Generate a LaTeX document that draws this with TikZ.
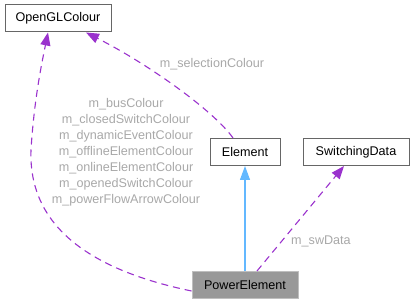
\documentclass[tikz,border=0pt]{standalone}
\usepackage{fontspec}
\setmainfont{Liberation Sans}
\usetikzlibrary{arrows.meta}
\definecolor{edgepurple}{HTML}{9A32CD}
\definecolor{edgeblue}{HTML}{63B8FF}
\definecolor{labelgray}{HTML}{A8A8A8}
\definecolor{boxborder}{HTML}{666666}
\definecolor{focusfill}{HTML}{999999}
\definecolor{focusborder}{HTML}{BFBFBF}
\tikzset{
  classbox/.style={draw=boxborder, fill=white, line width=1pt, minimum height=27pt,
    inner sep=0pt, font=\fontsize{12.6}{15}\selectfont},
  focusbox/.style={classbox, fill=focusfill, draw=focusborder},
  usage/.style={edgepurple, line width=1.1pt, dash pattern=on 7pt off 5pt,
    -{Triangle[length=13pt,width=10pt,fill=edgepurple]}},
  inherit/.style={edgeblue, line width=1.1pt,
    -{Triangle[length=14pt,width=10pt,fill=edgeblue]}},
  edgelabel/.style={text=labelgray, font=\fontsize{12.6}{16}\selectfont, align=center, inner sep=0pt}
}
\begin{document}
\begin{tikzpicture}[x=1pt,y=-1pt]
  \useasboundingbox (0,0) rectangle (413,304);

  % classes
  \node[classbox, minimum width=106pt] (ogl) at (58,18.5) {OpenGLColour};
  \node[classbox, minimum width=70pt] (elem) at (245,152) {Element};
  \node[classbox, minimum width=106pt] (swd) at (356,152) {SwitchingData};
  \node[focusbox, minimum width=106pt] (pe) at (245,285) {PowerElement};

  % inheritance
  \draw[inherit] (pe.north) -- (elem.south);

  % member usage
  \draw[usage] ([xshift=-12pt]elem.north) .. controls (215,112) and (150,65) .. ([xshift=28pt]ogl.south);
  \draw[usage] ([yshift=-6pt]pe.west) .. controls (100,272) and (28,232) .. (31,150)
    .. controls (34,100) and (42,62) .. ([xshift=-10pt]ogl.south);
  \draw[usage] ([xshift=12pt]pe.north) -- ([xshift=-12pt]swd.south);

  % labels
  \node[edgelabel] (lsel) at (212,64) {m\_selectionColour};
  \node[edgelabel] (lcol) at (126,152.5) {m\_busColour\\m\_closedSwitchColour\\m\_dynamicEventColour\\m\_offlineElementColour\\m\_onlineElementColour\\m\_openedSwitchColour\\m\_powerFlowArrowColour};
  \node[edgelabel] (lsw) at (321,241) {m\_swData};
\end{tikzpicture}
\end{document}
